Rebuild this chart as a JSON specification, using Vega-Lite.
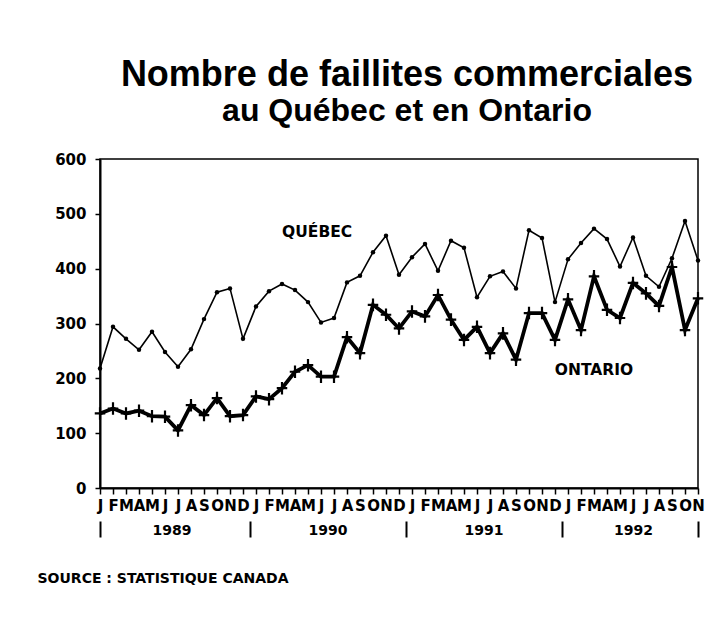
{
  "$schema": "https://vega.github.io/schema/vega-lite/v6.json",
  "autosize": "none",
  "width": 598,
  "height": 329,
  "padding": {"left": 100, "top": 159, "right": 26, "bottom": 134},
  "background": "white",
  "config": {
    "font": "DejaVu Sans",
    "view": {"stroke": "black", "strokeWidth": 1.5},
    "axis": {"grid": false, "domainColor": "black", "tickColor": "black", "labelColor": "black", "labelFont": "DejaVu Sans", "labelFontWeight": "bold"}
  },
  "title": {
    "text": "Nombre de faillites commerciales",
    "subtitle": "au Québec et en Ontario",
    "font": "Liberation Sans",
    "fontSize": 36,
    "fontWeight": "bold",
    "subtitleFont": "Liberation Sans",
    "subtitleFontSize": 32,
    "subtitleFontWeight": "bold",
    "subtitleColor": "black",
    "color": "black",
    "frame": "group",
    "anchor": "middle",
    "dx": 8,
    "offset": 24,
    "subtitlePadding": 2
  },
  "datasets": {
    "monthly": [
      {"t":0,"series":"Québec","value":218},{"t":1,"series":"Québec","value":294},{"t":2,"series":"Québec","value":272},{"t":3,"series":"Québec","value":252},{"t":4,"series":"Québec","value":285},{"t":5,"series":"Québec","value":248},{"t":6,"series":"Québec","value":221},{"t":7,"series":"Québec","value":253},{"t":8,"series":"Québec","value":308},{"t":9,"series":"Québec","value":357},{"t":10,"series":"Québec","value":364},{"t":11,"series":"Québec","value":272},
      {"t":12,"series":"Québec","value":331},{"t":13,"series":"Québec","value":359},{"t":14,"series":"Québec","value":372},{"t":15,"series":"Québec","value":361},{"t":16,"series":"Québec","value":339},{"t":17,"series":"Québec","value":302},{"t":18,"series":"Québec","value":310},{"t":19,"series":"Québec","value":375},{"t":20,"series":"Québec","value":387},{"t":21,"series":"Québec","value":430},{"t":22,"series":"Québec","value":460},{"t":23,"series":"Québec","value":389},
      {"t":24,"series":"Québec","value":421},{"t":25,"series":"Québec","value":445},{"t":26,"series":"Québec","value":396},{"t":27,"series":"Québec","value":451},{"t":28,"series":"Québec","value":438},{"t":29,"series":"Québec","value":348},{"t":30,"series":"Québec","value":386},{"t":31,"series":"Québec","value":395},{"t":32,"series":"Québec","value":364},{"t":33,"series":"Québec","value":470},{"t":34,"series":"Québec","value":456},{"t":35,"series":"Québec","value":339},
      {"t":36,"series":"Québec","value":417},{"t":37,"series":"Québec","value":447},{"t":38,"series":"Québec","value":473},{"t":39,"series":"Québec","value":454},{"t":40,"series":"Québec","value":404},{"t":41,"series":"Québec","value":457},{"t":42,"series":"Québec","value":387},{"t":43,"series":"Québec","value":367},{"t":44,"series":"Québec","value":419},{"t":45,"series":"Québec","value":487},{"t":46,"series":"Québec","value":415},
      {"t":0,"series":"Ontario","value":136},{"t":1,"series":"Ontario","value":145},{"t":2,"series":"Ontario","value":136},{"t":3,"series":"Ontario","value":141},{"t":4,"series":"Ontario","value":131},{"t":5,"series":"Ontario","value":130},{"t":6,"series":"Ontario","value":105},{"t":7,"series":"Ontario","value":151},{"t":8,"series":"Ontario","value":133},{"t":9,"series":"Ontario","value":164},{"t":10,"series":"Ontario","value":131},{"t":11,"series":"Ontario","value":133},
      {"t":12,"series":"Ontario","value":167},{"t":13,"series":"Ontario","value":162},{"t":14,"series":"Ontario","value":182},{"t":15,"series":"Ontario","value":212},{"t":16,"series":"Ontario","value":224},{"t":17,"series":"Ontario","value":203},{"t":18,"series":"Ontario","value":203},{"t":19,"series":"Ontario","value":275},{"t":20,"series":"Ontario","value":246},{"t":21,"series":"Ontario","value":334},{"t":22,"series":"Ontario","value":316},{"t":23,"series":"Ontario","value":291},
      {"t":24,"series":"Ontario","value":322},{"t":25,"series":"Ontario","value":313},{"t":26,"series":"Ontario","value":352},{"t":27,"series":"Ontario","value":307},{"t":28,"series":"Ontario","value":270},{"t":29,"series":"Ontario","value":294},{"t":30,"series":"Ontario","value":246},{"t":31,"series":"Ontario","value":282},{"t":32,"series":"Ontario","value":234},{"t":33,"series":"Ontario","value":319},{"t":34,"series":"Ontario","value":319},{"t":35,"series":"Ontario","value":270},
      {"t":36,"series":"Ontario","value":344},{"t":37,"series":"Ontario","value":288},{"t":38,"series":"Ontario","value":386},{"t":39,"series":"Ontario","value":325},{"t":40,"series":"Ontario","value":310},{"t":41,"series":"Ontario","value":374},{"t":42,"series":"Ontario","value":355},{"t":43,"series":"Ontario","value":332},{"t":44,"series":"Ontario","value":403},{"t":45,"series":"Ontario","value":288},{"t":46,"series":"Ontario","value":346}
    ],
    "labels": [
      {"t":16.7,"value":467,"label":"QUÉBEC"},
      {"t":38.0,"value":215,"label":"ONTARIO"}
    ],
    "years": [
      {"t":5.5,"year":"1989"},{"t":17.5,"year":"1990"},{"t":29.5,"year":"1991"},{"t":41,"year":"1992"}
    ],
    "separators": [
      {"t":0},{"t":11.5},{"t":23.5},{"t":35.5},{"t":46}
    ]
  },
  "resolve": {"axis": {"x": "independent"}},
  "layer": [
    {
      "data": {"name": "monthly"},
      "mark": {"type": "line", "color": "black", "strokeJoin": "miter"},
      "encoding": {
        "x": {"field": "t", "type": "quantitative", "scale": {"domain": [0, 46], "nice": false, "zero": false},
          "axis": {"orient": "bottom", "title": null, "values": [0,1,2,3,4,5,6,7,8,9,10,11,12,13,14,15,16,17,18,19,20,21,22,23,24,25,26,27,28,29,30,31,32,33,34,35,36,37,38,39,40,41,42,43,44,45,46],
            "labelExpr": "['J','F','M','A','M','J','J','A','S','O','N','D'][datum.value % 12]",
            "labelOverlap": false, "labelFlush": false, "labelBound": false,
            "labelFontSize": 15, "labelPadding": 4, "tickSize": 6, "tickWidth": 1.5, "domainWidth": 2}},
        "y": {"field": "value", "type": "quantitative", "scale": {"domain": [0, 600], "nice": false},
          "axis": {"title": null, "values": [0,100,200,300,400,500,600], "labelFontSize": 15, "tickSize": 5, "tickWidth": 1.5, "domainWidth": 2, "labelPadding": 9}},
        "detail": {"field": "series"},
        "strokeWidth": {"field": "series", "type": "nominal", "scale": {"domain": ["Québec", "Ontario"], "range": [1.6, 3.8]}, "legend": null}
      }
    },
    {
      "data": {"name": "monthly"},
      "transform": [{"filter": "datum.series === 'Québec'"}],
      "mark": {"type": "point", "filled": true, "shape": "circle", "size": 20, "color": "black", "opacity": 1},
      "encoding": {
        "x": {"field": "t", "type": "quantitative", "axis": null},
        "y": {"field": "value", "type": "quantitative"}
      }
    },
    {
      "data": {"name": "monthly"},
      "transform": [{"filter": "datum.series === 'Ontario'"}],
      "mark": {"type": "point", "filled": false, "shape": "M-1,0H1M0,-1.2V1.2", "size": 110, "strokeWidth": 2.2, "color": "black", "opacity": 1},
      "encoding": {
        "x": {"field": "t", "type": "quantitative", "axis": null},
        "y": {"field": "value", "type": "quantitative"}
      }
    },
    {
      "data": {"name": "labels"},
      "mark": {"type": "text", "font": "DejaVu Sans", "fontWeight": "bold", "fontSize": 15.5, "color": "black"},
      "encoding": {
        "x": {"field": "t", "type": "quantitative", "axis": null},
        "y": {"field": "value", "type": "quantitative"},
        "text": {"field": "label"}
      }
    },
    {
      "data": {"name": "years"},
      "mark": {"type": "point", "opacity": 0},
      "encoding": {
        "x": {"field": "t", "type": "quantitative",
          "axis": {"orient": "bottom", "title": null, "values": [5.5, 17.5, 29.5, 41],
            "labelExpr": "datum.value < 10 ? '1989' : datum.value < 20 ? '1990' : datum.value < 30 ? '1991' : '1992'",
            "ticks": false, "domain": false, "offset": 35, "labelPadding": 0, "labelFontSize": 14,
            "labelOverlap": false, "labelFlush": false, "labelBound": false}}
      }
    },
    {
      "data": {"name": "separators"},
      "mark": {"type": "point", "opacity": 0},
      "encoding": {
        "x": {"field": "t", "type": "quantitative",
          "axis": {"orient": "bottom", "values": [0, 11.5, 23.5, 35.5, 46], "labels": false, "domain": false,
            "tickSize": 16, "tickWidth": 2, "offset": 33,
            "title": "SOURCE : STATISTIQUE CANADA", "titleFont": "DejaVu Sans", "titleFontWeight": "bold", "titleFontSize": 14,
            "titleColor": "black", "titleAnchor": "start", "titleAlign": "left", "titleBaseline": "alphabetic",
            "titleX": -63, "titleY": 61}}
      }
    }
  ]
}
